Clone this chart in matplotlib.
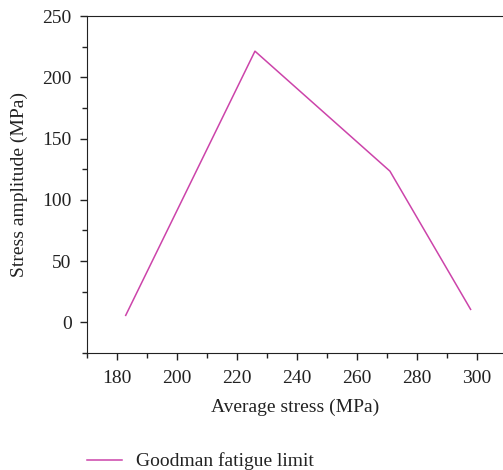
import matplotlib
matplotlib.use('Agg')
import matplotlib.pyplot as plt
from matplotlib.ticker import MultipleLocator

# Goodman fatigue limit points
avg_stress = [182.9, 226.0, 271.0, 297.9]
stress_amp = [5.7, 221.3, 123.4, 10.6]

plt.rcParams['font.family'] = 'Liberation Serif'
plt.rcParams['font.size'] = 14

fig = plt.figure(figsize=(5.03, 4.70), dpi=100)
ax = fig.add_axes([87/503, 1 - 353/470, 1 - 87/503, (353 - 16)/470])

line, = ax.plot(avg_stress, stress_amp, color='#cc44aa', lw=1.1)

ax.set_xlim(170, 308.7)
ax.set_ylim(-25, 250)
ax.xaxis.set_major_locator(MultipleLocator(20))
ax.xaxis.set_minor_locator(MultipleLocator(10))
ax.yaxis.set_major_locator(MultipleLocator(50))
ax.yaxis.set_minor_locator(MultipleLocator(25))
ax.tick_params(which='major', direction='out', length=5, width=1, colors='#222222', labelcolor='#222222')
ax.tick_params(which='minor', direction='out', length=3.5, width=1, colors='#222222')
ax.tick_params(axis='x', pad=7)
ax.tick_params(axis='y', pad=6)
ax.spines['right'].set_visible(False)
for s in ['left', 'top', 'bottom']:
    ax.spines[s].set_color('#222222')

ax.set_xlabel('Average stress (MPa)', color='#222222', labelpad=9)
ax.set_ylabel('Stress amplitude (MPa)', color='#222222', labelpad=10)

fig.legend([line], ['Goodman fatigue limit'], loc='lower left',
           bbox_to_anchor=(0.139, -0.038), frameon=False, handlelength=1.8,
           handletextpad=0.7, labelcolor='#222222')

fig.savefig('out.png', dpi=100)
